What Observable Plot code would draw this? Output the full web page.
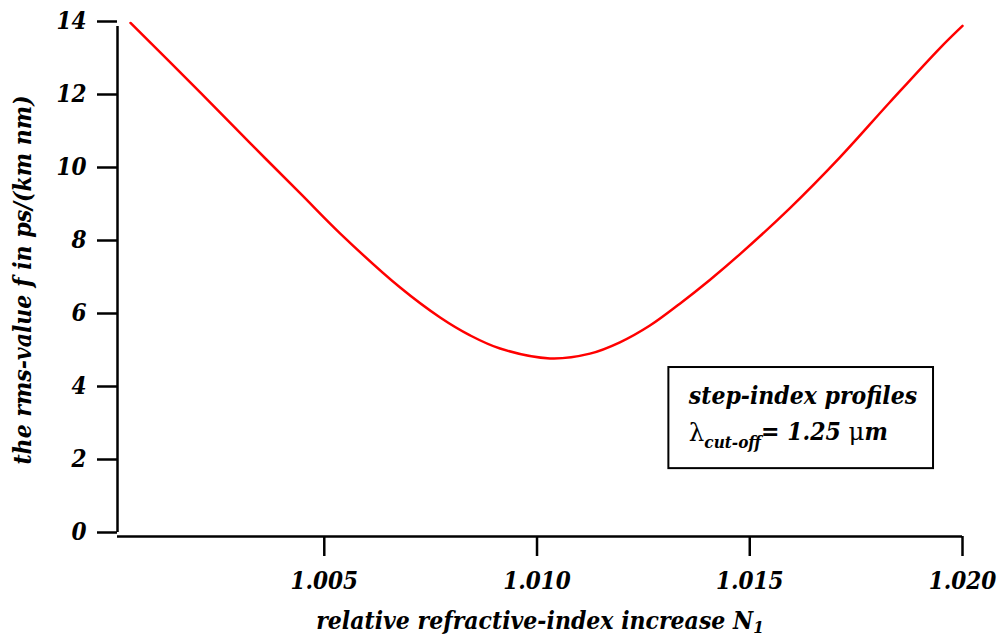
<!DOCTYPE html>
<html>
<head>
<meta charset="utf-8">
<script src="https://cdn.jsdelivr.net/npm/d3@7"></script>
<script src="https://cdn.jsdelivr.net/npm/@observablehq/plot@0.6"></script>
<style>
  html, body { margin: 0; padding: 0; background: #fff; }
</style>
</head>
<body>
<div id="chart"></div>
<script>
// relative refractive-index increase N1
const nValues = [1.000446, 1.002089, 1.003263, 1.004437, 1.005376, 1.006784, 1.007723, 1.008427,
  1.009131, 1.010305, 1.011244, 1.011948, 1.012653, 1.013357, 1.014061, 1.014765, 1.015939,
  1.017113, 1.018286, 1.019460, 1.020];
// rms-value f in ps/(km nm)
const fValues = [13.96, 12.05, 10.66, 9.29, 8.19, 6.71, 5.89, 5.40,
  5.04, 4.77, 4.90, 5.21, 5.67, 6.27, 6.92, 7.62, 8.88,
  10.27, 11.78, 13.26, 13.88];
const xTicks = [1.005, 1.010, 1.015, 1.020];
const yTicks = [0, 2, 4, 6, 8, 10, 12, 14];
const xLabel = "relative refractive-index increase N";
const yLabel = "the rms-value f in ps/(km nm)";
const legendLine1 = "step-index profiles";

const data = nValues.map((n, i) => ({n, f: fValues[i]}));
const xMin = 1.00014, xMax = 1.020;

const font = "'DejaVu Serif Condensed', 'DejaVu Serif', serif";

const chart = Plot.plot({
  width: 998,
  height: 637,
  marginLeft: 117,
  marginRight: 36,
  marginTop: 21,
  marginBottom: 105,
  x: {domain: [xMin, xMax]},
  y: {domain: [0, 14]},
  style: {fontFamily: font, fontWeight: "bold", fontStyle: "italic", fontSize: "24px", color: "black", background: "white"},
  marks: [
    Plot.axisY(yTicks, {tickSize: 20, tickPadding: 11, strokeWidth: 2.5, tickFormat: d => String(d), label: null, fontSize: 24}),
    Plot.axisX(xTicks, {tickSize: 20, tickPadding: 15, dy: 4, strokeWidth: 2.5, tickFormat: d3.format(".3f"), label: null, fontSize: 24}),
    Plot.ruleX([xMin], {y1: 0, y2: 14, insetBottom: -5, strokeWidth: 2.5, stroke: "black"}),
    Plot.ruleY([0], {x1: xMin, x2: xMax, dy: 4, strokeWidth: 2.5, stroke: "black"}),
    Plot.line(data, {x: "n", y: "f", curve: "catmull-rom", stroke: "#ff0000", strokeWidth: 2.5}),
    Plot.text([xLabel], {frameAnchor: "bottom", lineAnchor: "bottom", dy: 96, fontSize: 24.5, className: "xlab"}),
    Plot.text([yLabel], {frameAnchor: "left", textAnchor: "middle", rotate: -90, lineAnchor: "bottom", dx: -87, dy: 3, fontSize: 24.5}),
    Plot.rect([0], {x1: 1.013099, x2: 1.019319, y1: 1.75, y2: 4.52, fill: "white", stroke: "black", strokeWidth: 2}),
    Plot.text([legendLine1], {x: 1.013567, y: 3.534, textAnchor: "start", lineAnchor: "bottom", fontSize: 24.5}),
    Plot.text(["λ"], {x: 1.013567, y: 2.52, textAnchor: "start", lineAnchor: "bottom", fontSize: 24.5, className: "lam"})
  ]
});
document.getElementById("chart").appendChild(chart);

// subscript on N1
d3.select(chart).selectAll("g.xlab text").each(function() {
  d3.select(this).append("tspan").attr("font-size", 17).attr("dy", "0.25em").text("1");
});
// lambda cut-off line
d3.select(chart).selectAll("g.lam text").each(function() {
  const t = d3.select(this);
  t.text(null);
  t.append("tspan").attr("font-style", "normal").attr("font-weight", "normal").attr("font-family", "'DejaVu Serif', serif").text("λ");
  t.append("tspan").attr("font-size", 17).attr("dy", "0.45em").text("cut-off");
  t.append("tspan").attr("dy", "-0.32em").text("= 1.25 ");
  t.append("tspan").attr("font-style", "normal").attr("font-weight", "normal").attr("font-family", "'DejaVu Serif', serif").text("μ");
  t.append("tspan").text("m");
});
</script>
</body>
</html>
